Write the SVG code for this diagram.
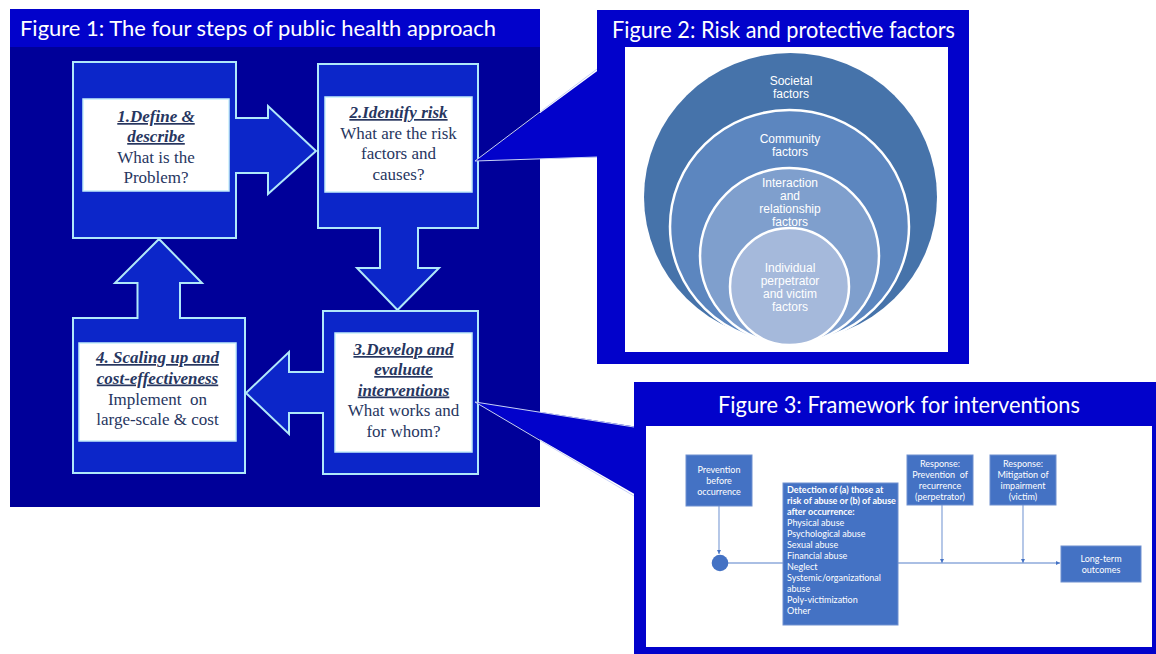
<svg xmlns="http://www.w3.org/2000/svg" width="1156" height="654" viewBox="0 0 1156 654">
<style>
.panel1{fill:#000099}
.bar{fill:#0202cb}
.title{font-family:Lato,"Liberation Sans",sans-serif;fill:#ffffff}
.step{fill:#0c26c9;stroke:#b0e8fa;stroke-width:2;stroke-linejoin:miter}
.inner{fill:#ffffff;stroke:#c4eefa;stroke-width:1.5}
.st{font-family:"Liberation Serif","Times New Roman",serif;font-size:17px;fill:#27365f;text-anchor:middle}
.sh{font-weight:bold;font-style:italic;text-decoration:underline}
.ring{stroke:#ffffff;stroke-width:2.5}
.ct{font-family:"Liberation Sans",Arial,sans-serif;font-size:12px;fill:#ffffff;text-anchor:middle}
.fb{fill:#4472c4;stroke:#6e90d0;stroke-width:1}
.ft{font-family:Lato,"Liberation Sans",sans-serif;font-size:9px;fill:#ffffff}
.mid{text-anchor:middle}
.ln{stroke:#8eaadb;stroke-width:1.3;fill:none}
.wedge{fill:#0202cb;stroke:none}
.wedge-edge{fill:none;stroke:#c8d2f4;stroke-width:1}
</style>
<defs>
<marker id="ah" viewBox="0 0 6 6" refX="6" refY="3" markerWidth="4" markerHeight="4" orient="auto" markerUnits="userSpaceOnUse">
<path d="M0,0 L6,3 L0,6 Z" fill="#4472c4"/>
</marker>
</defs>
<rect width="1156" height="654" fill="#ffffff"/>

<!-- Figure 1 panel -->
<g id="figure1">
<rect class="panel1" x="10" y="9" width="530" height="498"/>
<rect class="bar" x="10" y="9" width="530" height="38"/>
<text class="title" x="20" y="36" font-size="22" textLength="476" lengthAdjust="spacingAndGlyphs">Figure 1: The four steps of public health approach</text>
</g>

<g id="step1">
<polygon class="step" points="73,62 236,62 236,118 268,118 268,106 316,151 268,194 268,173 236,173 236,238 73,238"/>
<rect class="inner" x="83" y="99" width="146" height="92"/>
<text class="st" x="156" y="122"><tspan class="sh">1.Define &amp;</tspan><tspan class="sh" x="156" dy="20">describe</tspan><tspan x="156" dy="20.5">What is the</tspan><tspan x="156" dy="20.5">Problem?</tspan></text>
</g>

<g id="step2">
<polygon class="step" points="318,64 478,64 478,228 418,228 418,268 439,268 397.5,310 357,268 380,268 380,228 318,228"/>
<rect class="inner" x="325" y="97" width="147" height="95"/>
<text class="st" x="398.5" y="118"><tspan class="sh">2.Identify risk</tspan><tspan x="398.5" dy="20.5">What are the risk</tspan><tspan x="398.5" dy="20.5">factors and</tspan><tspan x="398.5" dy="20.5">causes?</tspan></text>
</g>

<g id="step3">
<polygon class="step" points="323,311 478,311 478,474 323,474 323,413 289,413 289,434 246,393 289,352 289,372 323,372"/>
<rect class="inner" x="335" y="333" width="137" height="119"/>
<text class="st" x="403.5" y="355"><tspan class="sh">3.Develop and</tspan><tspan class="sh" x="403.5" dy="20">evaluate</tspan><tspan class="sh" x="403.5" dy="20.5">interventions</tspan><tspan x="403.5" dy="20.5">What works and</tspan><tspan x="403.5" dy="20.5">for whom?</tspan></text>
</g>

<g id="step4">
<polygon class="step" points="73,318 137.5,318 137.5,283 115,283 159,239 202,283 180,283 180,318 245,318 245,473 73,473"/>
<rect class="inner" x="79" y="343" width="157" height="98"/>
<text class="st" x="157.5" y="363"><tspan class="sh">4. Scaling up and</tspan><tspan class="sh" x="157.5" dy="20.5">cost-effectiveness</tspan><tspan x="157.5" dy="21" xml:space="preserve">Implement  on</tspan><tspan x="157.5" dy="20.5">large-scale &amp; cost</tspan></text>
</g>

<!-- Figure 2 -->
<g id="figure2">
<rect class="bar" x="597" y="10" width="372" height="354"/>
<text class="title" x="612" y="38" font-size="23" textLength="343" lengthAdjust="spacingAndGlyphs">Figure 2: Risk and protective factors</text>
<rect x="625" y="47" width="323" height="305" fill="#ffffff"/>
</g>
<g id="societal">
<ellipse cx="790.5" cy="197" rx="146.5" ry="144" fill="#4673aa"/>
<text class="ct" x="791" y="85">Societal<tspan x="791" dy="13">factors</tspan></text>
</g>
<g id="community">
<ellipse class="ring" cx="789.5" cy="226.5" rx="119.5" ry="116.5" fill="#5c86bf"/>
<text class="ct" x="790" y="143">Community<tspan x="790" dy="13">factors</tspan></text>
</g>
<g id="relationship">
<ellipse class="ring" cx="789.5" cy="256" rx="89.5" ry="88" fill="#7f9fcd"/>
<text class="ct" x="790" y="187">Interaction<tspan x="790" dy="13">and</tspan><tspan x="790" dy="13">relationship</tspan><tspan x="790" dy="13">factors</tspan></text>
</g>
<g id="individual">
<ellipse class="ring" cx="789.5" cy="286.5" rx="59.5" ry="58.5" fill="#a5b9db"/>
<text class="ct" x="790" y="272">Individual<tspan x="790" dy="13">perpetrator</tspan><tspan x="790" dy="13">and victim</tspan><tspan x="790" dy="13">factors</tspan></text>
</g>

<!-- Figure 3 -->
<g id="figure3">
<rect class="bar" x="634" y="382" width="522" height="272"/>
<text class="title" x="718" y="413" font-size="23" textLength="362" lengthAdjust="spacingAndGlyphs">Figure 3: Framework for interventions</text>
<rect x="646" y="426" width="506" height="221" fill="#ffffff"/>
</g>

<!-- connectors: callout pointers and framework lines -->
<g id="connectors">
<polygon class="wedge" points="475,161 600,69 600,157"/>
<polyline class="wedge-edge" points="597,69 475,161 597,157"/>
<polygon class="wedge" points="475,402 638,427 638,496"/>
<polyline class="wedge-edge" points="634,427 475,402 634,496"/>
<line class="ln" x1="719" y1="506" x2="719" y2="554" marker-end="url(#ah)"/>
<line class="ln" x1="728" y1="563" x2="783" y2="563"/>
<line class="ln" x1="898" y1="563" x2="1060" y2="563" marker-end="url(#ah)"/>
<line class="ln" x1="942" y1="505" x2="942" y2="563" marker-end="url(#ah)"/>
<line class="ln" x1="1023" y1="505" x2="1023" y2="563" marker-end="url(#ah)"/>
</g>

<g id="prevention">
<rect class="fb" x="686" y="455" width="66" height="51"/>
<text class="ft mid" x="719" y="473">Prevention<tspan x="719" dy="11">before</tspan><tspan x="719" dy="11">occurrence</tspan></text>
</g>
<g id="junction">
<circle cx="720" cy="563" r="8.3" fill="#4472c4"/>
</g>
<g id="detection">
<rect class="fb" x="783" y="483" width="115" height="142"/>
<text class="ft" x="787" y="493"><tspan font-weight="bold">Detection of (a) those at</tspan><tspan x="787" dy="11" font-weight="bold">risk of abuse or (b) of abuse</tspan><tspan x="787" dy="11" font-weight="bold">after occurrence:</tspan><tspan x="787" dy="11">Physical abuse</tspan><tspan x="787" dy="11">Psychological abuse</tspan><tspan x="787" dy="11">Sexual abuse</tspan><tspan x="787" dy="11">Financial abuse</tspan><tspan x="787" dy="11">Neglect</tspan><tspan x="787" dy="11">Systemic/organizational</tspan><tspan x="787" dy="11">abuse</tspan><tspan x="787" dy="11">Poly-victimization</tspan><tspan x="787" dy="11">Other</tspan></text>
</g>
<g id="response1">
<rect class="fb" x="907" y="455" width="66" height="50"/>
<text class="ft mid" x="940" y="467">Response:<tspan x="940" dy="11" xml:space="preserve">Prevention  of</tspan><tspan x="940" dy="11">recurrence</tspan><tspan x="940" dy="11">(perpetrator)</tspan></text>
</g>
<g id="response2">
<rect class="fb" x="990" y="455" width="66" height="50"/>
<text class="ft mid" x="1023" y="467">Response:<tspan x="1023" dy="11">Mitigation of</tspan><tspan x="1023" dy="11">impairment</tspan><tspan x="1023" dy="11">(victim)</tspan></text>
</g>
<g id="outcomes">
<rect class="fb" x="1061" y="546" width="80" height="36"/>
<text class="ft mid" x="1101" y="562">Long-term<tspan x="1101" dy="11">outcomes</tspan></text>
</g>
</svg>
